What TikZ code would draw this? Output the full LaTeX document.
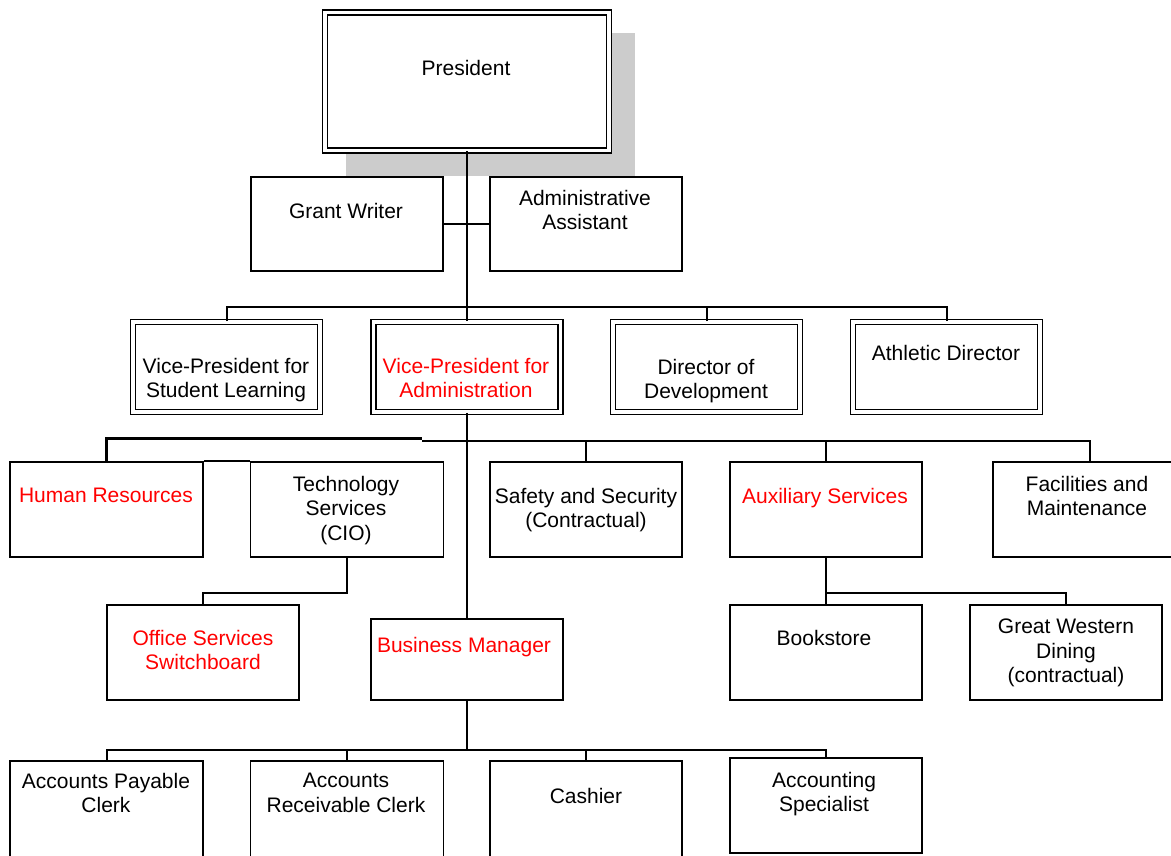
\documentclass[tikz,border=0pt]{standalone}
\usepackage{fontspec}
\setmainfont{Liberation Sans}
\definecolor{shadowgray}{RGB}{204,204,204}
\definecolor{orgred}{RGB}{255,0,0}
\tikzset{
  orgbox/.style={draw=black, line width=1.8pt, fill=white, rectangle, inner sep=0pt},
  dblbox/.style={draw=black, double=white, double distance=3.2pt, line width=1.6pt, fill=white, rectangle, inner sep=0pt},
  conn/.style={draw=black, line width=2pt},
  heavy/.style={draw=black, line width=3.4pt},
  txt/.style={font=\fontsize{21}{24.5}\selectfont, align=center, inner sep=0pt, anchor=north, text=black},
  redtxt/.style={txt, text=orgred}
}
\begin{document}
\begin{tikzpicture}[x=1pt, y=-1pt]
\useasboundingbox (0,0) rectangle (1171,855);
\fill[white] (0,0) rectangle (1171,855);
\clip (0,0) rectangle (1171,855);

% shadow of President box
\fill[shadowgray] (346,33) rectangle (635,176);

% boxes
\node[dblbox, minimum width=284pt, minimum height=138pt] (pres) at (467,81.5) {};
\node[orgbox, minimum width=192pt, minimum height=94pt] (gw) at (347,224) {};
\node[orgbox, minimum width=192pt, minimum height=94pt] (aa) at (586,224) {};

\node[dblbox, minimum width=187pt, minimum height=90pt] (vp1) at (226.5,367) {};
\node[dblbox, minimum width=187pt, minimum height=90pt] (vp2) at (467,367) {};
\node[dblbox, minimum width=187pt, minimum height=90pt] (dd) at (706.5,367) {};
\node[dblbox, minimum width=187pt, minimum height=90pt] (ad) at (946.5,367) {};

\node[orgbox, minimum width=193pt, minimum height=95pt] (hr) at (106.5,509.5) {};
\node[orgbox, minimum width=193pt, minimum height=95pt] (ts) at (347,509.5) {};
\node[orgbox, minimum width=192pt, minimum height=95pt] (ss) at (586,509.5) {};
\node[orgbox, minimum width=192pt, minimum height=95pt] (aux) at (826,509.5) {};
\node[orgbox, minimum width=193pt, minimum height=95pt] (fm) at (1089.5,509.5) {};

\node[orgbox, minimum width=192pt, minimum height=95pt] (os) at (203,652.5) {};
\node[orgbox, minimum width=192pt, minimum height=81pt] (bm) at (467,659.5) {};
\node[orgbox, minimum width=192pt, minimum height=95pt] (bk) at (826,652.5) {};
\node[orgbox, minimum width=192pt, minimum height=95pt] (gwd) at (1066,652.5) {};

\node[orgbox, minimum width=193pt, minimum height=100pt] (ap) at (106.5,811) {};
\node[orgbox, minimum width=193pt, minimum height=100pt] (ar) at (347,811) {};
\node[orgbox, minimum width=192pt, minimum height=100pt] (ca) at (586,811) {};
\node[orgbox, minimum width=192pt, minimum height=95pt] (acs) at (826,805.5) {};

% bus coordinates
\coordinate (vpbus) at (467,307);
\coordinate (b3a) at (422,438.5);
\coordinate (b3b) at (422,441);
\coordinate (tsb) at (347,593);
\coordinate (auxb) at (826,593);
\coordinate (bmb) at (467,750);

% connectors
\draw[conn] (pres.south) -- (vp2.north);
\draw[conn] (gw.east) -- (aa.west);
\draw[conn] (vp1.north) |- (vpbus) -| (ad.north);
\draw[conn] (dd.north) |- (vpbus);
\draw[conn] (vp2.south) -- (vp2.south |- bm.north);
\draw[heavy] (hr.north) |- (b3a);
\draw[conn] (b3b) -| (fm.north);
\draw[conn] (ss.north) |- (b3b);
\draw[conn] (aux.north) |- (b3b);
\draw[conn] (hr.north east) -- (ts.north west);
\draw[conn] (ts.south) -- (tsb) -| (os.north);
\draw[conn] (aux.south) -- (auxb) -| (gwd.north);
\draw[conn] (auxb) -- (bk.north);
\draw[conn] (bm.south) -- (bmb);
\draw[conn] (ap.north) |- (bmb) -| (acs.north);
\draw[conn] (ar.north) |- (bmb);
\draw[conn] (ca.north) |- (bmb);

% texts
\node[txt] (pres-t) at (466,60) {President};
\node[txt] (gw-t) at (346,203) {Grant Writer};
\node[txt] (aa-t) at (585,190) {Administrative\\Assistant};
\node[txt] (vp1-t) at (226,358) {Vice-President for\\Student Learning};
\node[redtxt] (vp2-t) at (466,358) {Vice-President for\\Administration};
\node[txt] (dd-t) at (706,359) {Director of\\Development};
\node[txt] (ad-t) at (946,345) {Athletic Director};
\node[redtxt] (hr-t) at (106,488) {Human Resources};
\node[txt] (ts-t) at (346,476) {Technology\\Services\\(CIO)};
\node[txt] (ss-t) at (586,488) {Safety and Security\\(Contractual)};
\node[redtxt] (aux-t) at (825,488) {Auxiliary Services};
\node[txt] (fm-t) at (1087,476) {Facilities and\\Maintenance};
\node[redtxt] (os-t) at (203,630) {Office Services\\Switchboard};
\node[redtxt] (bm-t) at (464,637) {Business Manager};
\node[txt] (bk-t) at (824,630) {Bookstore};
\node[txt] (gwd-t) at (1066,619) {Great Western\\Dining\\(contractual)};
\node[txt] (ap-t) at (106,773) {Accounts Payable\\Clerk};
\node[txt] (ar-t) at (346,773) {Accounts\\Receivable Clerk};
\node[txt] (ca-t) at (586,788) {Cashier};
\node[txt] (acs-t) at (824,772) {Accounting\\Specialist};
\end{tikzpicture}
\end{document}
